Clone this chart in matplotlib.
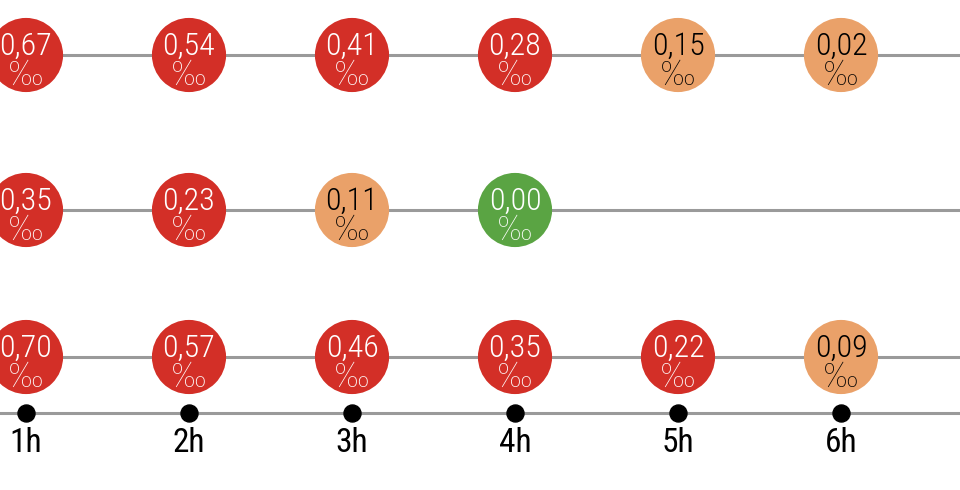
import numpy as np
from matplotlib import pyplot as plt

# data
hours = [1, 2, 3, 4, 5, 6]
hour_labels = ['1h', '2h', '3h', '4h', '5h', '6h']
row_top = [0.67, 0.54, 0.41, 0.28, 0.15, 0.02]
row_mid = [0.35, 0.23, 0.11, 0.00]
row_bot = [0.70, 0.57, 0.46, 0.35, 0.22, 0.09]

rows = [row_top, row_mid, row_bot]
row_y = [55, 210, 357]   # vertical layout of rows (pixels from top)
axis_y = 413

RED, ORANGE, GREEN = '#d32f27', '#eaa169', '#5aa443'
LINE = '#9a9a9a'
font = ['Roboto Condensed', 'DejaVu Sans']
permil_font = ['Fira Sans Condensed', 'DejaVu Sans']

def colour(v):
    if v == 0:
        return GREEN
    if v < 0.2:
        return ORANGE
    return RED

fig = plt.figure(figsize=(9.6, 4.9), dpi=100)
ax = fig.add_axes([0, 0, 1, 1])
ax.set_xlim(1 - 26/163, 1 + 934/163)
ax.set_ylim(490, 0)
ax.axis('off')

for y, vals in zip(row_y, rows):
    ax.axhline(y, color=LINE, lw=2.2, zorder=1)
    x = hours[:len(vals)]
    cols = [colour(v) for v in vals]
    ax.scatter(x, [y]*len(vals), s=2850, c=cols, linewidths=0, zorder=2)
    for xi, v, c in zip(x, vals, cols):
        tc = 'black' if c == ORANGE else 'white'
        ax.text(xi, y - 9, f'{v:.2f}'.replace('.', ','), ha='center', va='center',
                fontsize=23, fontweight='light', color=tc, family=font, zorder=3)
        ax.text(xi, y + 20, '‰', ha='center', va='center', fontweight='light',
                fontsize=26, color=tc, family=permil_font, zorder=3)

ax.axhline(axis_y, color=LINE, lw=2.2, zorder=1)
ax.scatter(hours, [axis_y]*len(hours), s=150, c='black', zorder=2)
for xi, lab in zip(hours, hour_labels):
    ax.text(xi, axis_y + 30, lab, ha='center', va='center', fontsize=24,
            color='black', family=font)

fig.savefig('out.png', dpi=100)
